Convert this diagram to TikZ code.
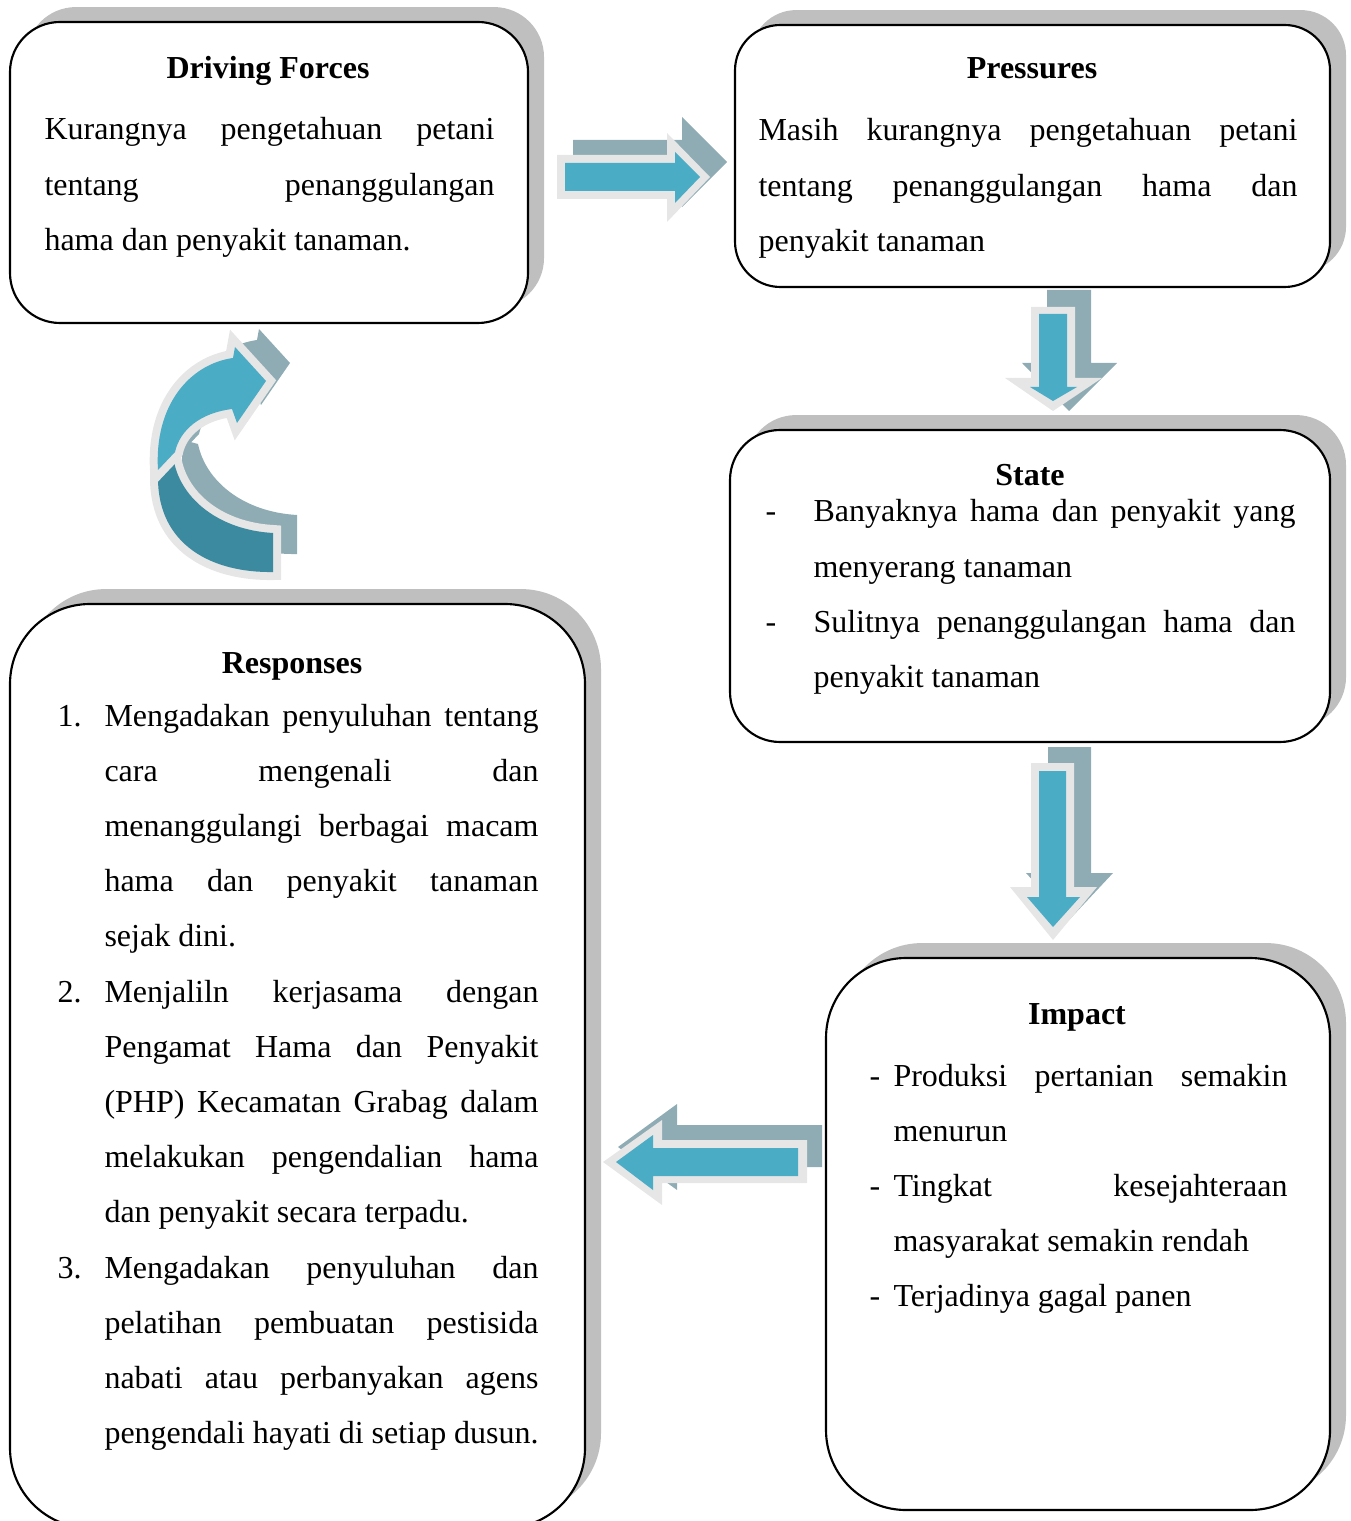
\documentclass[tikz,border=0pt]{standalone}
\usepackage{fontspec}
\setmainfont{Liberation Serif}
\usetikzlibrary{shadows}

\definecolor{arrowblue}{HTML}{4BACC6}
\definecolor{arrowshade}{HTML}{8FACB5}
\definecolor{arrowrim}{HTML}{E6E6E6}
\definecolor{arrowdeep}{HTML}{3C8AA0}
\definecolor{boxshadow}{HTML}{BFBFBF}

% one list entry with a hanging label
\newcommand{\hitem}[3]{\hangindent=#1\hangafter=1\noindent\makebox[#1][l]{#2}#3\par}

\begin{document}
\begin{tikzpicture}[x=0.375pt,y=-0.375pt,
  panel/.style={draw=black, line width=0.8pt, fill=white, rectangle, inner sep=0pt,
    general shadow={fill=boxshadow, shadow xshift=6pt, shadow yshift=5.6pt}},
  heading/.style={font=\fontsize{12}{14}\selectfont\bfseries, inner sep=0pt, anchor=base},
  body/.style={font=\fontsize{12}{20.7}\selectfont, inner sep=0pt, anchor=base west,
    align=justify, execute at begin node={\tolerance=10000\hyphenpenalty=10000\exhyphenpenalty=10000}},
  upperband/.style={insert path={(158,470) .. controls (154,405) and (190,364) .. (233,358)
     -- (235,347) -- (266,381) -- (237,423) -- (232,409)
     .. controls (200,413) and (180,430) .. (175,452) -- cycle}},
  lowerband/.style={insert path={(273,572) .. controls (212,573) and (158,545) .. (158,478)
     -- (159,458) -- (174,462) .. controls (182,500) and (220,530) .. (273,533) -- cycle}},
]
\useasboundingbox (0,0) rectangle (1350,1521);
\clip (0,0) rectangle (1350,1521);

% ---- panels ----
\node[panel, rounded corners=18.75pt, minimum width=194.25pt, minimum height=112.875pt] (df) at (269,172.5) {};
\node[panel, rounded corners=17pt, minimum width=223.125pt, minimum height=98.25pt] (pr) at (1032.5,156) {};
\node[panel, rounded corners=18.75pt, minimum width=225pt, minimum height=117pt] (st) at (1030,586) {};
\node[panel, rounded corners=30pt, minimum width=189pt, minimum height=207pt] (im) at (1078,1234) {};
\node[panel, rounded corners=30pt, minimum width=215.625pt, minimum height=346.5pt] (re) at (297.5,1066) {};

% ---- texts ----
\node[heading] (dfT) at (268,79) {Driving Forces};
\node[body, text width=168.75pt] (dfB) at (44,140)
  {Kurangnya pengetahuan petani\linebreak tentang penanggulangan\linebreak hama dan penyakit tanaman.};

\node[heading] (prT) at (1032,79) {Pressures};
\node[body, text width=202.125pt] (prB) at (758,141)
  {Masih kurangnya pengetahuan petani\linebreak tentang penanggulangan hama dan\linebreak penyakit tanaman};

\node[heading] (stT) at (1030,486) {State};
\node[body, text width=198.75pt] (stB) at (765,522)
  {\hitem{18pt}{-}{Banyaknya hama dan penyakit yang\linebreak menyerang tanaman}%
   \hitem{18pt}{-}{Sulitnya penanggulangan hama dan\linebreak penyakit tanaman}};

\node[heading] (imT) at (1077,1024) {Impact};
\node[body, text width=156.75pt] (imB) at (869,1086)
  {\hitem{9pt}{-}{Produksi pertanian semakin\linebreak menurun}%
   \hitem{9pt}{-}{Tingkat kesejahteraan\linebreak masyarakat semakin rendah}%
   \hitem{9pt}{-}{Terjadinya gagal panen}};

\node[heading] (reT) at (292,673) {Responses};
\node[body, text width=180.375pt] (reB) at (57,726)
  {\hitem{17.625pt}{1.}{Mengadakan penyuluhan tentang\linebreak cara mengenali dan\linebreak menanggulangi berbagai macam\linebreak hama dan penyakit tanaman\linebreak sejak dini.}%
   \hitem{17.625pt}{2.}{Menjaliln kerjasama dengan\linebreak Pengamat Hama dan Penyakit\linebreak (PHP) Kecamatan Grabag dalam\linebreak melakukan pengendalian hama\linebreak dan penyakit secara terpadu.}%
   \hitem{17.625pt}{3.}{Mengadakan penyuluhan dan\linebreak pelatihan pembuatan pestisida\linebreak nabati atau perbanyakan agens\linebreak pengendali hayati di setiap dusun.}};

% ---- block arrow: Driving Forces -> Pressures ----
\fill[arrowshade] (573,140) -- (682,140) -- (682,117) -- (727,162) -- (682,207) -- (682,184) -- (573,184) -- cycle;
\fill[arrowrim] (557,155) -- (667,155) -- (667,133) -- (710,177) -- (667,222) -- (667,199) -- (557,199) -- cycle;
\fill[arrowblue] (565,163) -- (675,163) -- (675,152) -- (700,177) -- (675,203) -- (675,191) -- (565,191) -- cycle;

% ---- block arrow: Pressures -> State ----
\fill[arrowshade] (1047,290) -- (1091,290) -- (1091,363) -- (1117,363) -- (1069,411) -- (1022,363) -- (1047,363) -- cycle;
\fill[arrowrim] (1031,307) -- (1075,307) -- (1075,378) -- (1102,378) -- (1053,411) -- (1005,378) -- (1031,378) -- cycle;
\fill[arrowblue] (1039,314) -- (1067,314) -- (1067,387) -- (1077,387) -- (1053,401) -- (1030,387) -- (1039,387) -- cycle;

% ---- block arrow: State -> Impact ----
\fill[arrowshade] (1048,747) -- (1091,747) -- (1091,873) -- (1113,873) -- (1069,920) -- (1026,873) -- (1048,873) -- cycle;
\fill[arrowrim] (1031,763) -- (1074,763) -- (1074,887) -- (1097,887) -- (1053,940) -- (1010,887) -- (1031,887) -- cycle;
\fill[arrowblue] (1039,771) -- (1066,771) -- (1066,897) -- (1080,897) -- (1053,927) -- (1027,897) -- (1039,897) -- cycle;

% ---- block arrow: Impact -> Responses ----
\fill[arrowshade] (822,1125) -- (677,1125) -- (677,1104) -- (618,1147) -- (677,1190) -- (677,1167) -- (822,1167) -- cycle;
\fill[arrowrim] (807,1140) -- (662,1140) -- (662,1120) -- (603,1162) -- (662,1205) -- (662,1183) -- (807,1183) -- cycle;
\fill[arrowblue] (798,1148) -- (653,1148) -- (653,1135) -- (616,1162) -- (653,1190) -- (653,1176) -- (798,1176) -- cycle;

% ---- curved arrow: Responses -> Driving Forces ----
\begin{scope}[shift={(24,-18)}]
  \fill[arrowshade, lowerband];
  \fill[arrowshade, upperband];
\end{scope}
\draw[arrowrim, line width=6pt, line join=miter, lowerband];
\fill[arrowdeep, lowerband];
\draw[arrowrim, line width=6pt, line join=miter, upperband];
\fill[arrowblue, upperband];
\end{tikzpicture}
\end{document}
